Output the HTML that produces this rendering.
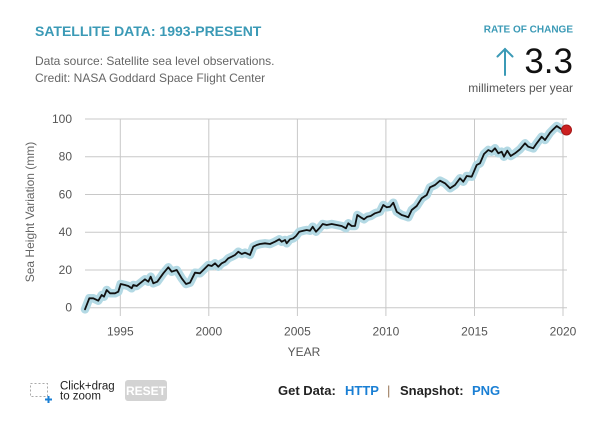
<!DOCTYPE html>
<html>
<head>
<meta charset="utf-8">
<style>
  html,body{margin:0;padding:0;background:#fff;}
  svg{display:block;}
  text{font-family:"Liberation Sans", Arial, sans-serif;}
</style>
</head>
<body>
<svg width="600" height="432" viewBox="0 0 600 432" xmlns="http://www.w3.org/2000/svg">
  <rect x="0" y="0" width="600" height="432" fill="#fff"/>

  <!-- Header -->
  <text x="35" y="36" font-size="14" font-weight="bold" fill="#3b9ab6">SATELLITE DATA: 1993-PRESENT</text>
  <text x="35" y="65" font-size="12" fill="#666">Data source: Satellite sea level observations.</text>
  <text x="35" y="82" font-size="12" fill="#666">Credit: NASA Goddard Space Flight Center</text>

  <text x="573" y="32.5" font-size="10" font-weight="bold" fill="#3b9ab6" text-anchor="end">RATE OF CHANGE</text>
  <g stroke="#3b9ab6" stroke-width="2" fill="none" stroke-linecap="round">
    <line x1="505" y1="49" x2="505" y2="75"/>
    <polyline points="497.5,56.5 505,49 512.5,56.5"/>
  </g>
  <text x="573" y="73" font-size="35" fill="#111" text-anchor="end">3.3</text>
  <text x="573" y="92" font-size="12" fill="#555" text-anchor="end">millimeters per year</text>

  <!-- Grid -->
  <g stroke="#c8c8c8" stroke-width="1">
    <line x1="85" y1="119" x2="567" y2="119"/>
    <line x1="85" y1="156.7" x2="567" y2="156.7"/>
    <line x1="85" y1="194.5" x2="567" y2="194.5"/>
    <line x1="85" y1="232.2" x2="567" y2="232.2"/>
    <line x1="85" y1="270" x2="567" y2="270"/>
    <line x1="85" y1="307.7" x2="567" y2="307.7"/>
    <line x1="120.3" y1="119" x2="120.3" y2="316"/>
    <line x1="208.8" y1="119" x2="208.8" y2="316"/>
    <line x1="297.4" y1="119" x2="297.4" y2="316"/>
    <line x1="385.9" y1="119" x2="385.9" y2="316"/>
    <line x1="474.5" y1="119" x2="474.5" y2="316"/>
    <line x1="563" y1="119" x2="563" y2="316"/>
  </g>

  <!-- Y tick labels -->
  <g font-size="12" fill="#555" text-anchor="end">
    <text x="72" y="123">100</text>
    <text x="72" y="160.7">80</text>
    <text x="72" y="198.5">60</text>
    <text x="72" y="236.2">40</text>
    <text x="72" y="274">20</text>
    <text x="72" y="311.7">0</text>
  </g>
  <!-- X tick labels -->
  <g font-size="12" fill="#555" text-anchor="middle">
    <text x="120.3" y="335.5">1995</text>
    <text x="208.8" y="335.5">2000</text>
    <text x="297.4" y="335.5">2005</text>
    <text x="385.9" y="335.5">2010</text>
    <text x="474.5" y="335.5">2015</text>
    <text x="563" y="335.5">2020</text>
  </g>
  <text x="304" y="356" font-size="12" fill="#555" text-anchor="middle">YEAR</text>
  <text transform="translate(34,212) rotate(-90)" font-size="12" fill="#666" text-anchor="middle">Sea Height Variation (mm)</text>

  <!-- Data -->
  <g fill="none" stroke-linejoin="round" stroke-linecap="round">
    <polyline stroke="#b3d9e4" stroke-width="8.5" points="85,309.3 89.3,298.3 93.3,298.3 98.3,300.7 101.7,295 104,296.7 106.7,290 110,293.3 115,293.3 118.3,291.7 120.7,284 125,285 128.3,286 131.7,288.3 133.3,285 136.7,286 140,283.3 145,279.3 148.3,281.7 150.7,276.7 153.3,283.3 157.3,281.7 163.3,273.3 168.3,267.3 171.7,271.7 176.7,270 181.7,278.3 186,284 190,282.7 195,272.7 200,273.3 203.3,270 208.3,265 211.7,266 215,263.3 218.3,266.7 221.7,263.3 225,261.7 228.3,258.3 231.7,256.7 235,255 238.3,251.7 241.7,254 245,252.7 248,254 250,255 253.3,246.7 256.7,245 260,244 265,243.3 270,244 275,241.7 279.3,239.3 281.7,241.7 285,240 286.7,243.3 290,239.3 293.3,238.3 296,236 299.3,231.7 303.3,230.7 306.7,230 310,230.7 312.7,226.7 316,231.7 319.3,228.3 322.7,224 326.7,225 331.7,224 336.7,225 341.7,226 346,228.3 348.3,223.3 351.7,226 355,226 357.3,215 360.7,217.3 364,219.3 367.3,216.7 370.7,216 375,213.3 380,211.7 383.3,205 386.7,207.3 390,206.7 393.3,202.7 396.7,211.7 401.7,215 405,216 408.3,217.3 411.7,210 416.7,206 421.7,198.3 426.7,195 430,187.3 435,185 440,180.7 445,183.3 450,188.3 455,185 460,178.3 463.3,181.7 466.7,176 471.7,176.7 476.7,165 480,163.3 484,154 488.3,150 491.7,151.7 495,148.3 498.3,153.3 501.7,151.7 504,156.7 507.3,150.7 510.7,156 515,153.3 520,149.3 525,143.3 528.3,146.7 533.3,148.3 536.7,143.3 541.7,136.7 545,140 550,132.7 553.3,129.3 556.7,126 560,128.3 562.7,130"/>
    <polyline stroke="#111" stroke-width="1.8" points="85,309.3 89.3,298.3 93.3,298.3 98.3,300.7 101.7,295 104,296.7 106.7,290 110,293.3 115,293.3 118.3,291.7 120.7,284 125,285 128.3,286 131.7,288.3 133.3,285 136.7,286 140,283.3 145,279.3 148.3,281.7 150.7,276.7 153.3,283.3 157.3,281.7 163.3,273.3 168.3,267.3 171.7,271.7 176.7,270 181.7,278.3 186,284 190,282.7 195,272.7 200,273.3 203.3,270 208.3,265 211.7,266 215,263.3 218.3,266.7 221.7,263.3 225,261.7 228.3,258.3 231.7,256.7 235,255 238.3,251.7 241.7,254 245,252.7 248,254 250,255 253.3,246.7 256.7,245 260,244 265,243.3 270,244 275,241.7 279.3,239.3 281.7,241.7 285,240 286.7,243.3 290,239.3 293.3,238.3 296,236 299.3,231.7 303.3,230.7 306.7,230 310,230.7 312.7,226.7 316,231.7 319.3,228.3 322.7,224 326.7,225 331.7,224 336.7,225 341.7,226 346,228.3 348.3,223.3 351.7,226 355,226 357.3,215 360.7,217.3 364,219.3 367.3,216.7 370.7,216 375,213.3 380,211.7 383.3,205 386.7,207.3 390,206.7 393.3,202.7 396.7,211.7 401.7,215 405,216 408.3,217.3 411.7,210 416.7,206 421.7,198.3 426.7,195 430,187.3 435,185 440,180.7 445,183.3 450,188.3 455,185 460,178.3 463.3,181.7 466.7,176 471.7,176.7 476.7,165 480,163.3 484,154 488.3,150 491.7,151.7 495,148.3 498.3,153.3 501.7,151.7 504,156.7 507.3,150.7 510.7,156 515,153.3 520,149.3 525,143.3 528.3,146.7 533.3,148.3 536.7,143.3 541.7,136.7 545,140 550,132.7 553.3,129.3 556.7,126 560,128.3 562.7,130"/>
  </g>
  <circle cx="566.5" cy="130" r="5" fill="#cc2020" stroke="#a51818" stroke-width="1"/>

  <!-- Bottom controls -->
  <rect x="30.5" y="383.5" width="17" height="13" fill="none" stroke="#aaa" stroke-width="1" stroke-dasharray="2,2"/>
  <g stroke="#1a7fd4" stroke-width="2">
    <line x1="45" y1="399.5" x2="52" y2="399.5"/>
    <line x1="48.5" y1="396" x2="48.5" y2="403"/>
  </g>
  <text x="60" y="389.5" font-size="11.5" fill="#222">Click+drag</text>
  <text x="60" y="399.5" font-size="11.5" fill="#222">to zoom</text>

  <rect x="125" y="380" width="42" height="21" rx="3" fill="#d3d3d3"/>
  <text x="146" y="395" font-size="12" font-weight="bold" fill="#fff" text-anchor="middle">RESET</text>

  <text x="278" y="395" font-size="13" font-weight="bold" fill="#222">Get Data:</text>
  <text x="345" y="395" font-size="13" font-weight="bold" fill="#1a7fd4">HTTP</text>
  <text x="387" y="395" font-size="13" fill="#9a7a5a">|</text>
  <text x="400" y="395" font-size="13" font-weight="bold" fill="#222">Snapshot:</text>
  <text x="472" y="395" font-size="13" font-weight="bold" fill="#1a7fd4">PNG</text>
</svg>
</body>
</html>
